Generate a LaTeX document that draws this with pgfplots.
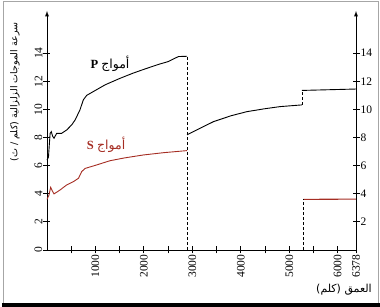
\documentclass[border=0pt]{standalone}
\usepackage{fontspec}
\setmainfont{Liberation Serif}
\newfontfamily\arabicfont[Script=Arabic]{DejaVu Sans}
\TeXXeTstate=1
\usepackage{pgfplots}
\pgfplotsset{compat=1.18}
\definecolor{sred}{RGB}{165,45,35}
\begin{document}
\begin{tikzpicture}
\path[use as bounding box] (-47pt,-57pt) rectangle (333pt,250pt);
\draw[gray!70,line width=0.8pt] (-44pt,-54pt) rectangle (331pt,249pt);
\draw[black,line width=3.5pt] (-45pt,-55pt) -- (333pt,-55pt);
\begin{axis}[
  at={(0pt,0pt)}, anchor=origin,
  scale only axis, width=309pt, height=239pt,
  xmin=0, xmax=6378, ymin=0, ymax=17,
  axis x line*=bottom, axis y line=left,
  y axis line style={-latex},
  axis line style={line width=0.9pt},
  tick align=center, major tick length=7pt,
  every tick/.style={black,line width=0.8pt},
  xtick={500,1000,1500,2000,2500,3000,3500,4000,4500,5000,5500,6000,6378},
  xticklabels={,1000,,2000,,3000,,4000,,5000,,6000,6378},
  ytick={0,2,4,6,8,10,12,14},
  /pgf/number format/assume math mode=true,
  xticklabel style={rotate=90,anchor=east,font=\fontsize{11.5}{13}\selectfont,inner sep=1pt},
  yticklabel style={rotate=90,anchor=south,font=\fontsize{11.5}{13}\selectfont,inner sep=1pt},
  scaled x ticks=false,
  clip=false,
]
\addplot[black,line width=0.9pt] coordinates {(0,6.4) (30,6.6) (50,7.6) (65,8.3) (89,8.42) (115,8.1) (145,7.95) (200,8.3) (303,8.3) (407,8.54) (510,8.9) (580,9.25) (680,9.96) (750,10.68) (820,11.0) (957,11.27) (1200,11.75) (1500,12.2) (1777,12.58) (2000,12.85) (2300,13.2) (2500,13.4) (2713,13.76) (2890,13.78)};
\addplot[black,line width=0.9pt] coordinates {(2890,8.19) (3093,8.54) (3436,9.13) (3800,9.55) (4126,9.84) (4500,10.05) (4814,10.2) (5260,10.32)};
\addplot[black,line width=0.9pt] coordinates {(5260,11.35) (6378,11.45)};
\addplot[sred,line width=0.9pt] coordinates {(0,3.6) (40,3.9) (76,4.46) (110,4.2) (145,3.99) (270,4.27) (407,4.63) (545,4.86) (650,5.1) (715,5.57) (785,5.8) (1025,6.05) (1300,6.35) (1600,6.55) (1990,6.76) (2400,6.92) (2890,7.07)};
\addplot[sred,line width=1.1pt] coordinates {(5290,3.6) (6378,3.62)};
\addplot[black,densely dashed,line width=0.6pt] coordinates {(2890,0) (2890,13.78)};
\addplot[black,densely dashed,line width=0.6pt] coordinates {(5260,10.32) (5260,11.35)};
\addplot[black,densely dashed,line width=0.6pt] coordinates {(5290,0) (5290,3.6)};
\node[font=\fontsize{12.5}{14}\selectfont] at (axis cs:1300,13.25) {\textbf{P} {\arabicfont\beginR أمواج\endR}};
\node[font=\fontsize{12.5}{14}\selectfont,text=sred] at (axis cs:1220,7.45) {\textbf{S} {\arabicfont\beginR أمواج\endR}};
\end{axis}
\begin{axis}[
  at={(0pt,0pt)}, anchor=origin,
  scale only axis, width=309pt, height=239pt,
  xmin=0, xmax=6378, ymin=0, ymax=17,
  axis x line=none, axis y line=right,
  y axis line style={-latex},
  axis line style={line width=0.9pt},
  tick align=center, major tick length=7pt,
  every tick/.style={black,line width=0.8pt},
  ytick={2,4,6,8,10,12,14},
  /pgf/number format/assume math mode=true,
  yticklabel style={anchor=west,font=\fontsize{11.5}{13}\selectfont,inner sep=1pt},
]
\addplot[draw=none] coordinates {(0,0)};
\end{axis}
\node[rotate=90,font=\fontsize{9.5}{11}\selectfont] at (-32pt,158pt) {\arabicfont\beginR سرعة الموجات الزلزالية (كلم / ث)\endR};
\node[font=\fontsize{11}{13}\selectfont] at (297pt,-40pt) {\arabicfont\beginR العمق (كلم)\endR};
\end{tikzpicture}
\end{document}
